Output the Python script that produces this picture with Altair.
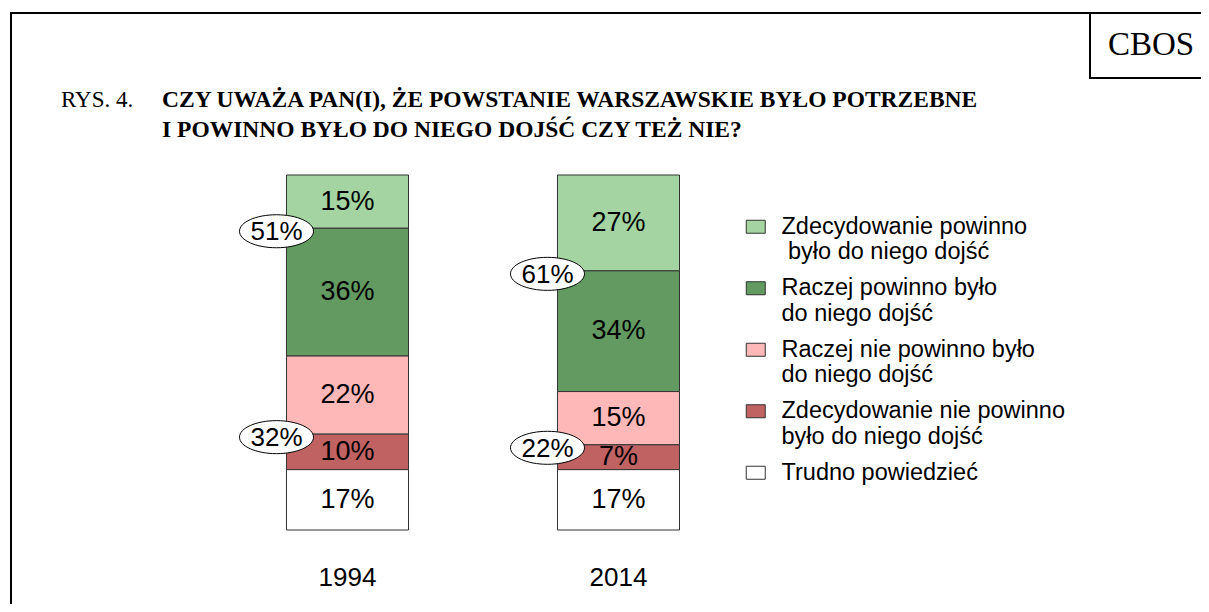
import altair as alt
import pandas as pd

years = ["1994", "2014"]
categories = [
    "Zdecydowanie powinno|\u200b\u00a0było do niego dojść",
    "Raczej powinno było|do niego dojść",
    "Raczej nie powinno było|do niego dojść",
    "Zdecydowanie nie powinno|było do niego dojść",
    "Trudno powiedzieć",
]
colors = ["#A3D4A1", "#629A62", "#FFB8B8", "#C06262", "#FFFFFF"]
values_1994 = [15, 36, 22, 10, 17]
values_2014 = [27, 34, 15, 7, 17]
pos_totals = [51, 61]
neg_totals = [32, 22]
title_prefix = "RYS. 4."
title_lines = [
    "CZY UWAŻA PAN(I), ŻE POWSTANIE WARSZAWSKIE BYŁO POTRZEBNE",
    "I POWINNO BYŁO DO NIEGO DOJŚĆ CZY TEŻ NIE?",
]
brand = "CBOS"

rows = []
for yr, vals in zip(years, [values_1994, values_2014]):
    for i, (c, v) in enumerate(zip(categories, vals)):
        rows.append({"year": yr, "cat": c, "value": v, "order": len(categories) - 1 - i,
                     "lbl": f"{v}%"})
df = pd.DataFrame(rows)

tot_rows = []
for yr, vals, p, n in zip(years, [values_1994, values_2014], pos_totals, neg_totals):
    bottom_up = vals[::-1]
    tot_rows.append({"year": yr, "label": f"{p}%", "pos": sum(bottom_up[:4])})
    tot_rows.append({"year": yr, "label": f"{n}%", "pos": sum(bottom_up[:2])})
tot = pd.DataFrame(tot_rows)

SANS = "Liberation Sans"
SERIF = "Liberation Serif"

x_axis = alt.Axis(title=None, labelAngle=0, domain=False, ticks=False, labelFontSize=26,
                  labelFont=SANS, labelColor="black", labelPadding=34, grid=False)
x_scale = alt.Scale(domain=years, paddingInner=0.5498, paddingOuter=0.2749)
y_scale = alt.Scale(domain=[0, 100], nice=False, zero=True)

legend_symbol = "M-1.9,-1.3H1.9V1.3H-1.9Z"

base = alt.Chart(df).transform_stack(
    stack="value", as_=["y0", "y1"], groupby=["year"],
    sort=[alt.SortField("order", order="ascending")]
).transform_calculate(mid="(datum.y0 + datum.y1) / 2")

bars = base.mark_bar(stroke="#333333", strokeWidth=1).encode(
    x=alt.X("year:N", scale=x_scale, axis=x_axis),
    y=alt.Y("y0:Q", scale=y_scale, axis=None),
    y2="y1:Q",
    color=alt.Color("cat:N", scale=alt.Scale(domain=categories, range=colors),
                    legend=alt.Legend(
                        title=None, orient="none", legendX=532, legendY=40,
                        symbolType=legend_symbol, symbolSize=100,
                        symbolStrokeColor="#333333", symbolStrokeWidth=1,
                        labelFont=SANS, labelFontSize=23.5, labelColor="black",
                        labelLimit=500, labelOffset=14, rowPadding=11.5, padding=0,
                        labelExpr="indexof(datum.label, '|') >= 0 ? split(datum.label, '|') : [datum.label, '']",
                    )),
)

bar_text = base.mark_text(font=SANS, fontSize=27, color="black", baseline="middle").encode(
    x=alt.X("year:N", scale=x_scale, axis=x_axis),
    y=alt.Y("mid:Q", scale=y_scale, axis=None),
    text="lbl:N",
)

ellipse_path = "M-1,0A1,0.446,0,1,1,1,0A1,0.446,0,1,1,-1,0Z"
tot_base = alt.Chart(tot)
ellipses = tot_base.mark_point(shape=ellipse_path, size=5476, filled=True, fill="white",
                               stroke="black", strokeWidth=1, opacity=1, xOffset=-10,
                               yOffset=3).encode(
    x=alt.X("year:N", scale=x_scale, axis=x_axis, bandPosition=0),
    y=alt.Y("pos:Q", scale=y_scale, axis=None),
)
ellipse_text = tot_base.mark_text(font=SANS, fontSize=26, color="black", baseline="middle",
                                  xOffset=-10, yOffset=4).encode(
    x=alt.X("year:N", scale=x_scale, axis=x_axis, bandPosition=0),
    y=alt.Y("pos:Q", scale=y_scale, axis=None),
    text="label:N",
)

one = pd.DataFrame({"k": [0]})
frame_style = dict(color="black", strokeWidth=2)
frame_left = alt.Chart(one).mark_rule(**frame_style).encode(
    x=alt.value(-201), y=alt.value(-163), y2=alt.value(440))
frame_top = alt.Chart(one).mark_rule(**frame_style).encode(
    x=alt.value(-202), x2=alt.value(1000), y=alt.value(-162))
cbos_left = alt.Chart(one).mark_rule(**frame_style).encode(
    x=alt.value(878), y=alt.value(-162), y2=alt.value(-97))
cbos_bottom = alt.Chart(one).mark_rule(**frame_style).encode(
    x=alt.value(877), x2=alt.value(1000), y=alt.value(-97))

cbos_text = alt.Chart(one).mark_text(text=brand, font=SERIF, fontSize=33, color="black",
                                     align="center", baseline="middle").encode(
    x=alt.value(939), y=alt.value(-130))
rys_text = alt.Chart(one).mark_text(text=title_prefix, font=SERIF, fontSize=23, color="black",
                                    align="left", baseline="middle").encode(
    x=alt.value(-151), y=alt.value(-75))
title_text = alt.Chart(one).mark_text(text=title_lines, font=SERIF, fontSize=23.5, fontWeight="bold",
                                      color="black", align="left", baseline="middle",
                                      lineHeight=30).encode(
    x=alt.value(-50), y=alt.value(-75))

chart = alt.layer(
    bars, bar_text, ellipses, ellipse_text,
    frame_left, frame_top, cbos_left, cbos_bottom, cbos_text, rys_text, title_text,
).properties(
    width=542, height=355,
    background="white",
    autosize=alt.AutoSizeParams(type="none"),
    padding={"left": 204, "top": 167, "right": 447, "bottom": 74},
).configure_view(strokeWidth=0, stroke="transparent")

chart.save("out.html", embed_options={"renderer": "svg", "actions": False})
